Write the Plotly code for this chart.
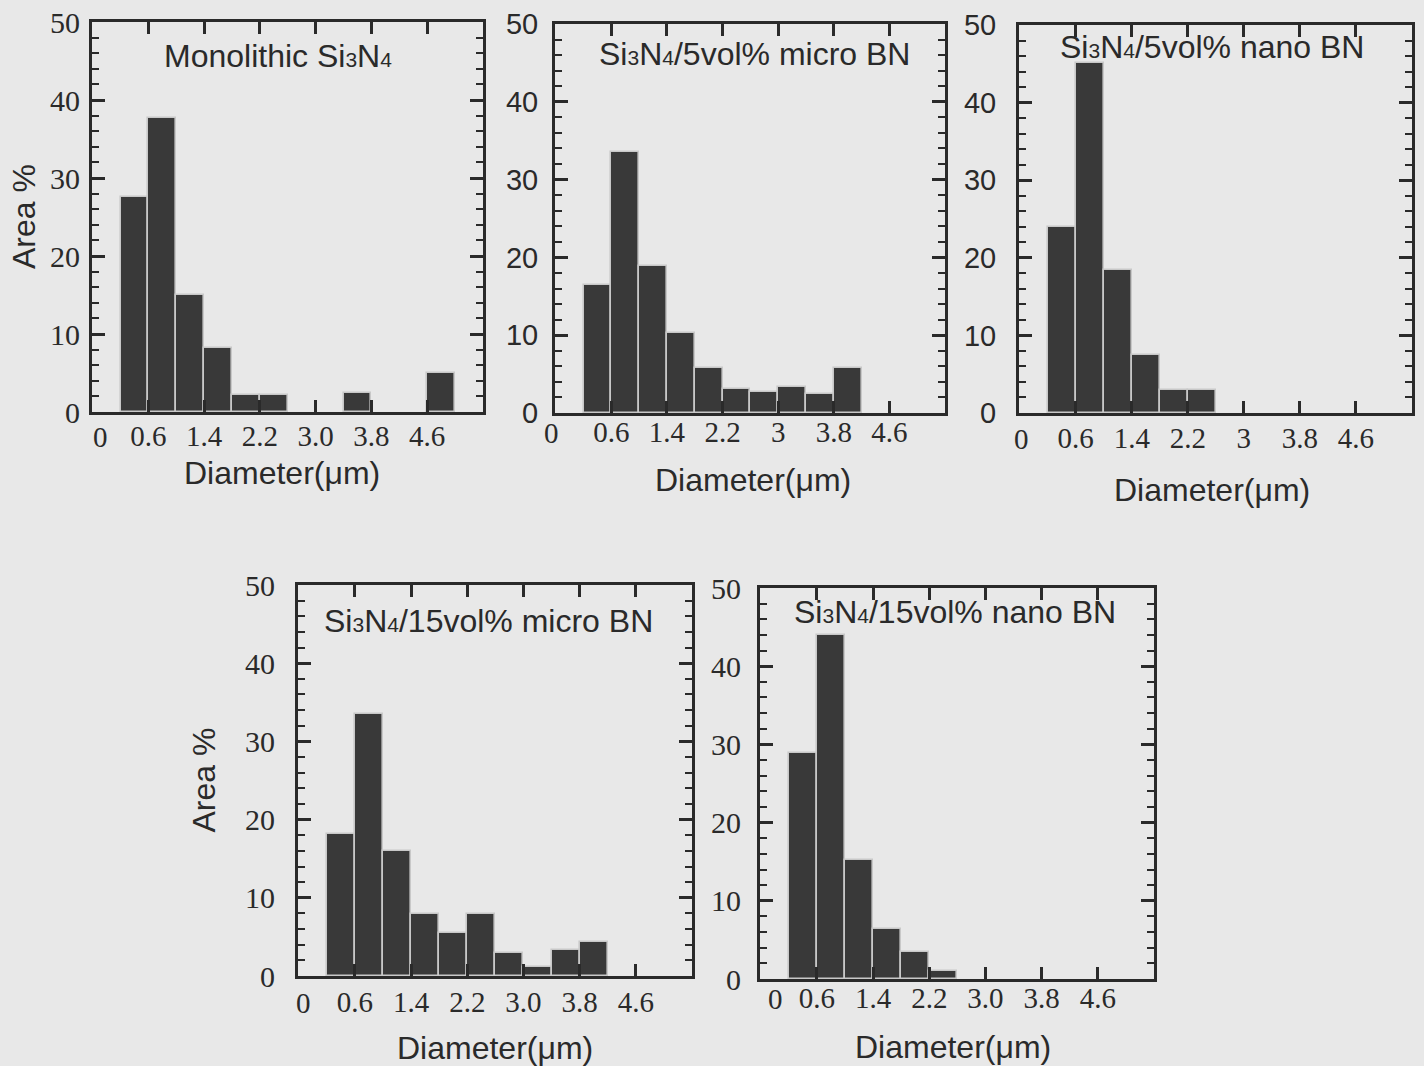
import plotly.graph_objects as go

# ---------------- data ----------------
bin_centers = [0.4, 0.8, 1.2, 1.6, 2.0, 2.4, 2.8, 3.2, 3.6, 4.0, 4.4, 4.8]
bin_width = 0.4

monolithic = [27.6, 37.7, 15.0, 8.2, 2.2, 2.2, 0, 0, 2.5, 0, 0, 5.0]
micro5 = [16.5, 33.6, 18.9, 10.3, 5.8, 3.1, 2.7, 3.4, 2.4, 5.8, 0, 0]
nano5 = [24.0, 45.1, 18.4, 7.5, 3.0, 3.0, 0, 0, 0, 0, 0, 0]
micro15 = [18.2, 33.5, 16.0, 7.9, 5.5, 7.9, 2.9, 1.2, 3.3, 4.3, 0, 0]
nano15 = [28.9, 44.0, 15.2, 6.4, 3.5, 1.0, 0, 0, 0, 0, 0, 0]

x_tickvals = [0.6, 1.4, 2.2, 3.0, 3.8, 4.6]
x_ticktext_a = ["0.6", "1.4", "2.2", "3.0", "3.8", "4.6"]
x_ticktext_b = ["0.6", "1.4", "2.2", "3", "3.8", "4.6"]
y_tickvals = [0, 10, 20, 30, 40, 50]

SUB = '<span style="font-size:21px">{}</span>'
si3n4 = "Si" + SUB.format("3") + "N" + SUB.format("4")
titles = [
    "Monolithic " + si3n4,
    si3n4 + "/5vol% micro BN",
    si3n4 + "/5vol% nano BN",
    si3n4 + "/15vol% micro BN",
    si3n4 + "/15vol% nano BN",
]
series = [monolithic, micro5, nano5, micro15, nano15]
xticktexts = [x_ticktext_a, x_ticktext_b, x_ticktext_b, x_ticktext_a, x_ticktext_a]

# ---------------- layout geometry (pixels) ----------------
W, H = 1424, 1066
# left, right, top, bottom
boxes = [
    (92, 483, 22, 412),
    (555, 945, 24, 413),
    (1019, 1412, 25, 413),
    (298, 692, 585, 976),
    (760, 1154, 588, 979),
]
title_pos = [(278, 56), (754, 54), (1212, 47), (488, 621), (955, 612)]
zero_x = [100, 551, 1022, 303, 775]
ytick_serif = [True, False, False, True, True]
ytick_standoff = [3, 8, 14, 14, 10]
xtick_standoff = [-4, -9, -3, -2, -9]
area_x = [24, None, None, 203, None]
xlabel_y = [473, 480, 490, 1048, 1047]
xlabel_x = [282, 753, 1212, 495, 953]

BG = "#e8e8e8"
BAR = "#393939"
INK = "#2a2a2a"
SANS = "Liberation Sans, Arial, sans-serif"
SERIF = "Liberation Serif, Times New Roman, serif"

fig = go.Figure()
annotations = []

for i, (vals, box) in enumerate(zip(series, boxes)):
    n = "" if i == 0 else str(i + 1)
    xa, ya = "x" + n, "y" + n
    l, r, t, b = box
    xs = [c for c, v in zip(bin_centers, vals) if v > 0]
    ys = [v for v in vals if v > 0]
    fig.add_trace(go.Bar(
        x=xs, y=ys, width=bin_width,
        marker=dict(color=BAR, line=dict(color="#c8c8c8", width=1.6)),
        xaxis=xa, yaxis=ya, showlegend=False,
    ))
    fig.layout["xaxis" + n] = dict(
        domain=[l / W, r / W], anchor=ya, range=[-0.21, 5.4],
        tickmode="array", tickvals=x_tickvals, ticktext=xticktexts[i],
        ticks="inside", ticklen=12, tickwidth=2.5, tickcolor=INK,
        showline=True, linewidth=3, linecolor=INK, mirror="ticks",
        showgrid=False, zeroline=False, automargin=False,
        tickfont=dict(family=SERIF, size=29, color=INK),
        ticklabelstandoff=xtick_standoff[i],
        fixedrange=True,
    )
    fig.layout["yaxis" + n] = dict(
        domain=[1 - b / H, 1 - t / H], anchor=xa, range=[0, 50],
        tickmode="array", tickvals=y_tickvals,
        ticks="inside", ticklen=13, tickwidth=2.5, tickcolor=INK,
        minor=dict(dtick=2, ticks="inside", ticklen=7, tickwidth=2, tickcolor=INK),
        showline=True, linewidth=3, linecolor=INK, mirror="ticks",
        showgrid=False, zeroline=False, automargin=False,
        tickfont=dict(family=SERIF if ytick_serif[i] else SANS,
                      size=30 if ytick_serif[i] else 29, color=INK),
        ticklabelstandoff=ytick_standoff[i],
        fixedrange=True,
    )
    # panel title
    tx, ty = title_pos[i]
    annotations.append(dict(
        text=titles[i], x=tx / W, y=1 - ty / H,
        xref="paper", yref="paper", xanchor="center", yanchor="middle",
        showarrow=False, font=dict(family=SANS, size=32, color=INK),
    ))
    # x tick label "0"
    annotations.append(dict(
        text="0", x=zero_x[i] / W, xref="paper",
        y=1 - (b + 29 + xtick_standoff[i]) / H,
        yref="paper", xanchor="center", yanchor="middle", showarrow=False,
        font=dict(family=SERIF, size=29, color=INK),
    ))
    # x axis title
    annotations.append(dict(
        text="Diameter(μm)", x=xlabel_x[i] / W, y=1 - xlabel_y[i] / H,
        xref="paper", yref="paper", xanchor="center", yanchor="middle",
        showarrow=False, font=dict(family=SANS, size=32, color=INK),
    ))
    if area_x[i] is not None:
        annotations.append(dict(
            text="Area %", x=area_x[i] / W, y=1 - (t + b) / 2 / H,
            xref="paper", yref="paper", xanchor="center", yanchor="middle",
            textangle=-90, showarrow=False,
            font=dict(family=SANS, size=32, color=INK),
        ))

fig.update_layout(
    width=W, height=H, margin=dict(l=0, r=0, t=0, b=0, autoexpand=False),
    paper_bgcolor=BG, plot_bgcolor=BG,
    bargap=0, annotations=annotations, showlegend=False,
)

fig.write_html("out.html")
